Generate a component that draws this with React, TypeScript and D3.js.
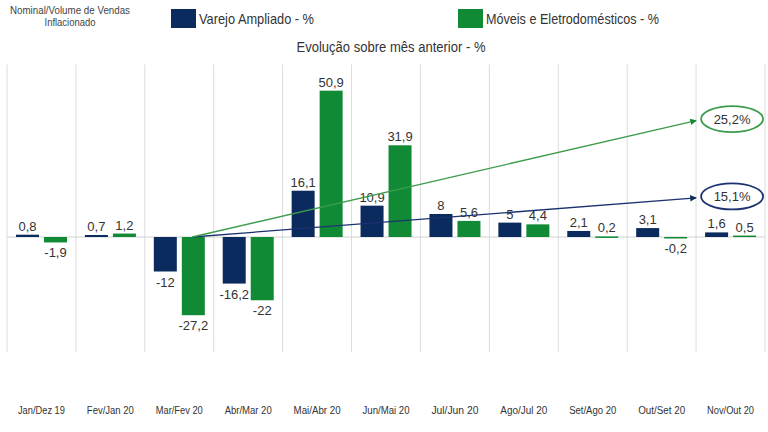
import React, { useEffect, useRef } from 'react'
import * as d3 from 'd3'

const categories = [
  'Jan/Dez 19', 'Fev/Jan 20', 'Mar/Fev 20', 'Abr/Mar 20', 'Mai/Abr 20', 'Jun/Mai 20',
  'Jul/Jun 20', 'Ago/Jul 20', 'Set/Ago 20', 'Out/Set 20', 'Nov/Out 20',
]
const varejo = [0.8, 0.7, -12, -16.2, 16.1, 10.9, 8, 5, 2.1, 3.1, 1.6]
const moveis = [-1.9, 1.2, -27.2, -22, 50.9, 31.9, 5.6, 4.4, 0.2, -0.2, 0.5]

const seriesNames = ['Varejo Ampliado - %', 'Móveis e Eletrodomésticos - %']
const seriesColors = ['#0b2a5e', '#118a36']

// accumulated trend from Mar/Fev to Nov/Out: [label, end value]
const trendLabels = ['15,1%', '25,2%']
const trendEnds = [13.6, 40.5]

const fmt = (v: number) => String(v).replace('.', ',')

const W = 768
const H = 432

export default function App() {
  const svgRef = useRef<SVGSVGElement>(null)

  useEffect(() => {
    if (!svgRef.current) return
    const svg = d3.select(svgRef.current)
    svg.selectAll('*').remove()

    const x = d3.scaleBand<string>().domain(categories).range([7, 765])
    const y = d3.scaleLinear().domain([-40, 60]).range([352, 64.5])
    const bw = 23
    const offs = [9, 37]

    const defs = svg.append('defs')
    seriesColors.forEach((c, i) => {
      defs.append('marker')
        .attr('id', 'arr' + i)
        .attr('viewBox', '0 0 10 10')
        .attr('refX', 9).attr('refY', 5)
        .attr('markerWidth', 5).attr('markerHeight', 5)
        .attr('orient', 'auto')
        .append('path').attr('d', 'M0,0L10,5L0,10z').attr('fill', c)
    })

    // vertical grid
    const edges = categories.map(c => x(c)!).concat([x.range()[1]])
    svg.append('g').selectAll('line').data(edges).join('line')
      .attr('x1', d => d).attr('x2', d => d)
      .attr('y1', y(60)).attr('y2', y(-40))
      .attr('stroke', '#dcdcdc').attr('stroke-width', 1)

    svg.append('line')
      .attr('x1', x.range()[0]).attr('x2', x.range()[1])
      .attr('y1', y(0)).attr('y2', y(0))
      .attr('stroke', '#d0d0d0')

    const font = "'Liberation Sans', Arial, sans-serif"
    const all = [varejo, moveis]

    all.forEach((vals, s) => {
      const g = svg.append('g')
      g.selectAll('rect').data(vals).join('rect')
        .attr('x', (_, i) => x(categories[i])! + offs[s])
        .attr('width', bw)
        .attr('y', d => y(Math.max(0, d)))
        .attr('height', d => Math.max(1.5, Math.abs(y(d) - y(0))))
        .attr('fill', seriesColors[s])
      g.selectAll('text').data(vals).join('text')
        .attr('x', (_, i) => x(categories[i])! + offs[s] + bw / 2)
        .attr('y', d => d >= 0 ? y(d) - 4 : y(d) + 15)
        .attr('text-anchor', 'middle')
        .attr('font-family', font)
        .attr('font-size', 13)
        .attr('fill', '#333')
        .text(d => fmt(d))
    })

    // trend arrows + ellipses
    const x0 = x('Mar/Fev 20')! + offs[1] + bw / 2 - 1
    const x1 = x('Nov/Out 20')!
    trendEnds.forEach((v, s) => {
      svg.append('line')
        .attr('x1', x0).attr('y1', y(0))
        .attr('x2', x1).attr('y2', y(v))
        .attr('stroke', s === 0 ? '#1c3270' : '#3d9c4c')
        .attr('stroke-width', 1.3)
        .attr('marker-end', `url(#arr${s})`)
      svg.append('ellipse')
        .attr('cx', x1 + 36).attr('cy', y(v) - 1.5)
        .attr('rx', 31).attr('ry', 13)
        .attr('fill', 'white')
        .attr('stroke', s === 0 ? '#1c3270' : '#3d9c4c')
        .attr('stroke-width', 1.8)
      svg.append('text')
        .attr('x', x1 + 36).attr('y', y(v) + 3)
        .attr('text-anchor', 'middle')
        .attr('font-family', font)
        .attr('font-size', 13)
        .attr('fill', '#333')
        .text(trendLabels[s])
    })

    // category labels
    svg.append('g').selectAll('text').data(categories).join('text')
      .attr('x', d => x(d)! + x.bandwidth() / 2)
      .attr('y', 414)
      .attr('text-anchor', 'middle')
      .attr('font-family', font)
      .attr('font-size', 10)
      .attr('lengthAdjust', 'spacingAndGlyphs')
      .attr('textLength', d => d.length * 4.7)
      .attr('fill', '#333')
      .text(d => d)

    // header (condensed look via textLength)
    const head = svg.append('g').attr('font-family', font).attr('fill', '#444')
    head.append('text').attr('x', 70).attr('y', 14).attr('text-anchor', 'middle')
      .attr('font-size', 10).attr('lengthAdjust', 'spacingAndGlyphs').attr('textLength', 120)
      .text('Nominal/Volume de Vendas')
    head.append('text').attr('x', 70).attr('y', 26).attr('text-anchor', 'middle')
      .attr('font-size', 10).attr('lengthAdjust', 'spacingAndGlyphs').attr('textLength', 51)
      .text('Inflacionado')

    const legX = [171, 458]
    const legLen = [115, 173]
    seriesNames.forEach((n, i) => {
      head.append('rect').attr('x', legX[i]).attr('y', 9).attr('width', 25).attr('height', 19)
        .attr('fill', seriesColors[i])
      head.append('text').attr('x', legX[i] + 28).attr('y', 23.5)
        .attr('font-size', 14.5).attr('fill', '#333')
        .attr('lengthAdjust', 'spacingAndGlyphs').attr('textLength', legLen[i])
        .text(n)
    })

    head.append('text').attr('x', 391).attr('y', 52).attr('text-anchor', 'middle')
      .attr('font-size', 14).attr('fill', '#333')
      .attr('lengthAdjust', 'spacingAndGlyphs').attr('textLength', 189)
      .text('Evolução sobre mês anterior - %')
  }, [])

  return (
    <svg ref={svgRef} width={W} height={H}
      style={{ position: 'absolute', left: 0, top: 0, background: 'white' }} />
  )
}
